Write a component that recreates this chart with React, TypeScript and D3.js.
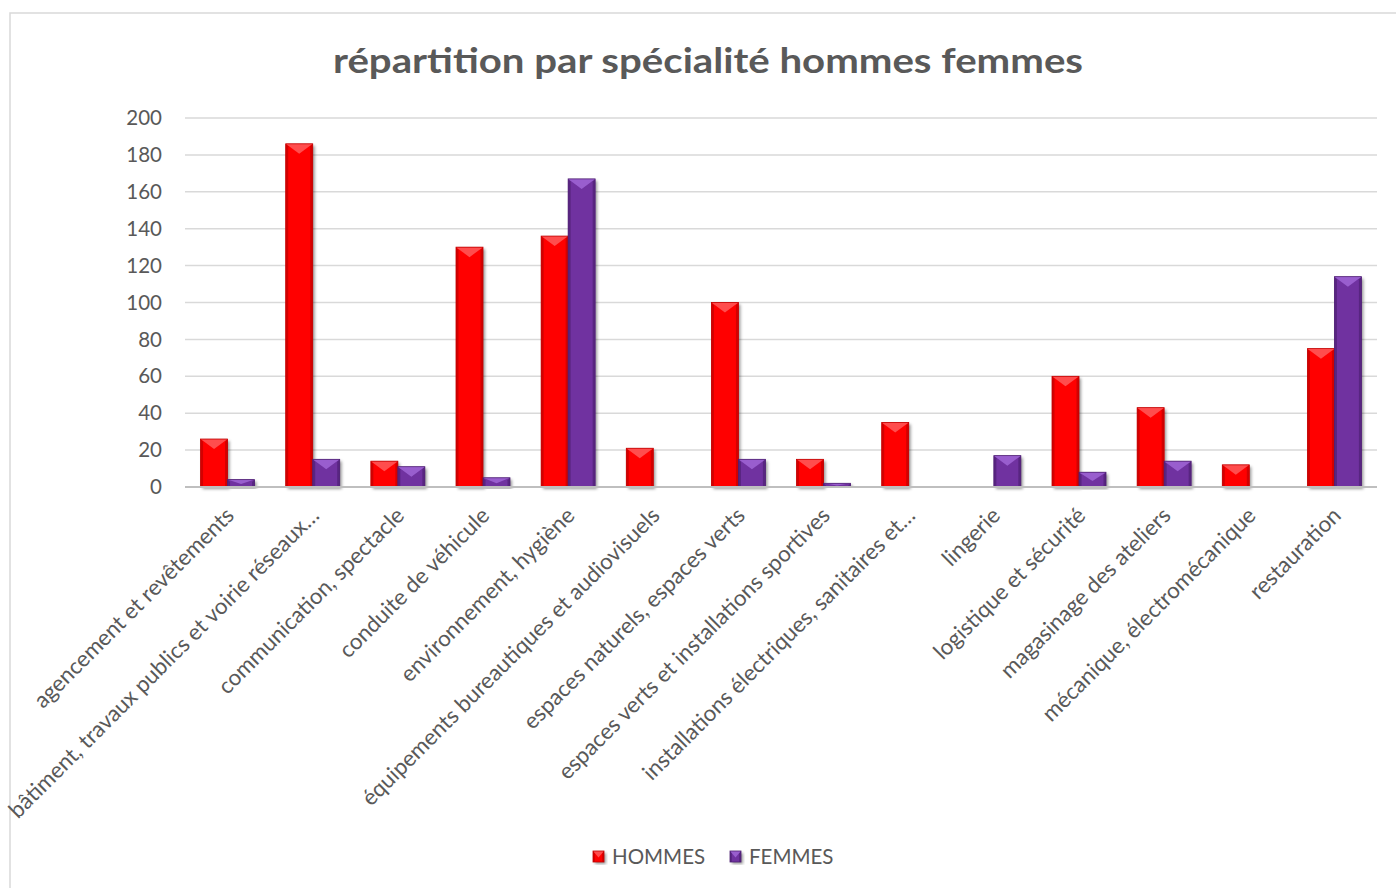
import React from "react";
import * as d3 from "d3";

const categories = [
  "agencement et revêtements",
  "bâtiment, travaux publics et voirie réseaux…",
  "communication, spectacle",
  "conduite de véhicule",
  "environnement, hygiène",
  "équipements bureautiques et audiovisuels",
  "espaces naturels, espaces verts",
  "espaces verts et installations sportives",
  "installations électriques, sanitaires et…",
  "lingerie",
  "logistique et sécurité",
  "magasinage des ateliers",
  "mécanique, électromécanique",
  "restauration",
];
const hommes = [26, 186, 14, 130, 136, 21, 100, 15, 35, 0, 60, 43, 12, 75];
const femmes = [4, 15, 11, 5, 167, 0, 15, 2, 0, 17, 8, 14, 0, 114];
const seriesNames = ["HOMMES", "FEMMES"];
const yTicks = [0, 20, 40, 60, 80, 100, 120, 140, 160, 180, 200];
const title = "répartition par spécialité hommes femmes";

const palette = [
  { base: "#FF0000", dark: "#C00000", light: "#FF5A5A" },
  { base: "#7030A0", dark: "#4E1F73", light: "#A066D6" },
];

const FONT = "Lato, 'Open Sans', sans-serif";
const TEXT = "#595959";

const left = 185, right = 1377, top = 118, bottom = 487;

function Bar({ x, y, w, h, c }: { x: number; y: number; w: number; h: number; c: typeof palette[0] }) {
  if (h <= 0.3) return null;
  const b = Math.min(10, h * 0.6);
  const s = Math.min(2.5, w / 6);
  return (
    <g>
      <rect x={x} y={y} width={w} height={h} fill={c.base} filter="url(#shadow)" />
      <polygon points={`${x},${y} ${x + s},${y + Math.min(s, h)} ${x + s},${y + h} ${x},${y + h}`} fill={c.dark} opacity={0.7} />
      <polygon points={`${x + w},${y} ${x + w - s},${y + Math.min(s, h)} ${x + w - s},${y + h} ${x + w},${y + h}`} fill={c.dark} opacity={0.7} />
      <polygon points={`${x},${y} ${x + w},${y} ${x + w / 2},${y + b}`} fill={c.light} opacity={0.85} />
      <rect x={x} y={y} width={w} height={h} fill="none" stroke={c.dark} strokeWidth={0.8} />
    </g>
  );
}

export default function App() {
  const x0 = d3.scaleBand<string>().domain(categories).range([left, right]).paddingInner(0.366).paddingOuter(0.183);
  const x1 = d3.scaleBand<string>().domain(seriesNames).range([0, x0.bandwidth()]).padding(0);
  const y = d3.scaleLinear().domain([0, 200]).range([bottom, top]);
  const data = [hommes, femmes];

  return (
    <svg width={1396} height={888} style={{ position: "absolute", left: 0, top: 0, background: "#fff" }}>
      <defs>
        <filter id="shadow" x="-30%" y="-10%" width="160%" height="130%">
          <feDropShadow dx="2" dy="2" stdDeviation="1.8" floodColor="#000" floodOpacity="0.4" />
        </filter>
      </defs>
      <rect x={0} y={0} width={1396} height={888} fill="#fff" />
      <rect x={10} y={13} width={1400} height={900} fill="#fff" stroke="#d9d9d9" strokeWidth={1.5} />
      <text x={708} y={73} textAnchor="middle" fontFamily={FONT} fontWeight="bold" fontSize={35} fill={TEXT} textLength={750} lengthAdjust="spacingAndGlyphs">
        {title}
      </text>
      {yTicks.map((t) => (
        <g key={t}>
          {t !== 0 && <line x1={left} x2={right} y1={y(t)} y2={y(t)} stroke="#d9d9d9" strokeWidth={1.5} />}
          <text x={162} y={y(t)} dy="0.35em" textAnchor="end" fontFamily={FONT} fontSize={20.5} fill={TEXT}>
            {t}
          </text>
        </g>
      ))}
      {categories.map((cat, i) => (
        <g key={cat}>
          {data.map((vals, s) => {
            const v = vals[i];
            const bx = (x0(cat) as number) + (x1(seriesNames[s]) as number);
            return <Bar key={s} x={bx} y={y(v)} w={x1.bandwidth()} h={y(0) - y(v)} c={palette[s]} />;
          })}
        </g>
      ))}
      <line x1={left} x2={right} y1={bottom} y2={bottom} stroke="#bfbfbf" strokeWidth={2} />
      {categories.map((cat) => {
        const cx = (x0(cat) as number) + x0.bandwidth() / 2;
        return (
          <text key={cat} transform={`translate(${cx - 4},${505}) rotate(-45)`} textAnchor="end" dy="0.75em" fontFamily={FONT} fontSize={22.3} fill={TEXT}>
            {cat}
          </text>
        );
      })}
      {seriesNames.map((n, s) => {
        const lx = s === 0 ? 593 : 730;
        return (
          <g key={n}>
            <Bar x={lx} y={851} w={11} h={11} c={palette[s]} />
            <text x={lx + 19} y={857} dy="0.35em" fontFamily={FONT} fontSize={20.5} fill={TEXT}>
              {n}
            </text>
          </g>
        );
      })}
    </svg>
  );
}
